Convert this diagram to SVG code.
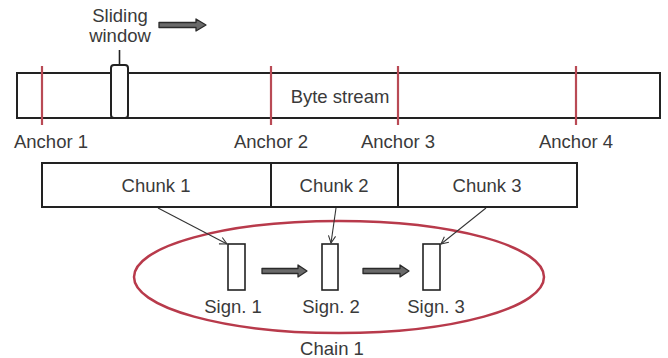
<svg xmlns="http://www.w3.org/2000/svg" width="668" height="358" viewBox="0 0 668 358">
<defs>
<style>
text{font-family:"Liberation Sans",Arial,sans-serif;font-size:18.5px;fill:#3a3a3a;text-anchor:middle}
.box{fill:#fff;stroke:#222;stroke-width:2}
.sig{fill:#fff;stroke:#222;stroke-width:1.6}
.anchor{stroke:#b94a55;stroke-width:2.2}
.fat{fill:#6a6a6a;stroke:#2a2a2a;stroke-width:1.3;stroke-linejoin:round}
.conn{stroke:#333;stroke-width:1.1;fill:none;marker-end:url(#ah)}
</style>
<marker id="ah" viewBox="0 0 10 10" refX="9" refY="5" markerWidth="9" markerHeight="9" markerUnits="userSpaceOnUse" orient="auto">
<path d="M1,1 L9,5 L1,9" fill="none" stroke="#333" stroke-width="1.2"/>
</marker>
</defs>
<rect width="668" height="358" fill="#fff"/>

<g id="sliding-window-label">
<text x="120" y="22">Sliding</text>
<text x="120" y="42">window</text>
<path class="fat" d="M159,22.5 L196,22.5 L196,19 L206,25 L196,31 L196,27.5 L159,27.5 Z"/>
</g>

<g id="byte-stream">
<rect class="box" x="17" y="73" width="643" height="45"/>
<text x="340" y="103">Byte stream</text>
</g>

<g id="sliding-window">
<line x1="119.5" y1="50" x2="119.5" y2="65" stroke="#222" stroke-width="1.6"/>
<rect class="box" x="111" y="65" width="17" height="53" rx="3"/>
</g>

<g id="anchor-1">
<line class="anchor" x1="42" y1="66" x2="42" y2="125"/>
<text x="51" y="148">Anchor 1</text>
</g>
<g id="anchor-2">
<line class="anchor" x1="271" y1="66" x2="271" y2="125"/>
<text x="271" y="148">Anchor 2</text>
</g>
<g id="anchor-3">
<line class="anchor" x1="398" y1="66" x2="398" y2="125"/>
<text x="398" y="148">Anchor 3</text>
</g>
<g id="anchor-4">
<line class="anchor" x1="576" y1="66" x2="576" y2="125"/>
<text x="576" y="148">Anchor 4</text>
</g>

<g id="chunk-1">
<rect class="box" x="42" y="163" width="229" height="44"/>
<text x="156" y="192">Chunk 1</text>
</g>
<g id="chunk-2">
<rect class="box" x="271" y="163" width="127" height="44"/>
<text x="334" y="192">Chunk 2</text>
</g>
<g id="chunk-3">
<rect class="box" x="398" y="163" width="179" height="44"/>
<text x="487" y="192">Chunk 3</text>
</g>

<g id="chain-1">
<ellipse cx="339" cy="277" rx="205" ry="56" fill="none" stroke="#b83a4b" stroke-width="2.5"/>
<text x="332" y="355">Chain 1</text>
</g>

<g id="sign-1">
<rect class="sig" x="228" y="244" width="17" height="46"/>
<text x="233" y="313">Sign. 1</text>
</g>
<g id="sign-2">
<rect class="sig" x="322" y="244" width="16" height="46"/>
<text x="331" y="313">Sign. 2</text>
</g>
<g id="sign-3">
<rect class="sig" x="423" y="244" width="17" height="46"/>
<text x="436" y="313">Sign. 3</text>
</g>

<g id="connectors">
<path class="conn" d="M158,208 L227,244"/>
<path class="conn" d="M336,208 L331,243"/>
<path class="conn" d="M486,208 L441,244"/>
<path class="fat" d="M262,268.5 L298,268.5 L298,265 L307,271 L298,277 L298,273.5 L262,273.5 Z"/>
<path class="fat" d="M363,268.5 L400,268.5 L400,265 L409,271 L400,277 L400,273.5 L363,273.5 Z"/>
</g>
</svg>
